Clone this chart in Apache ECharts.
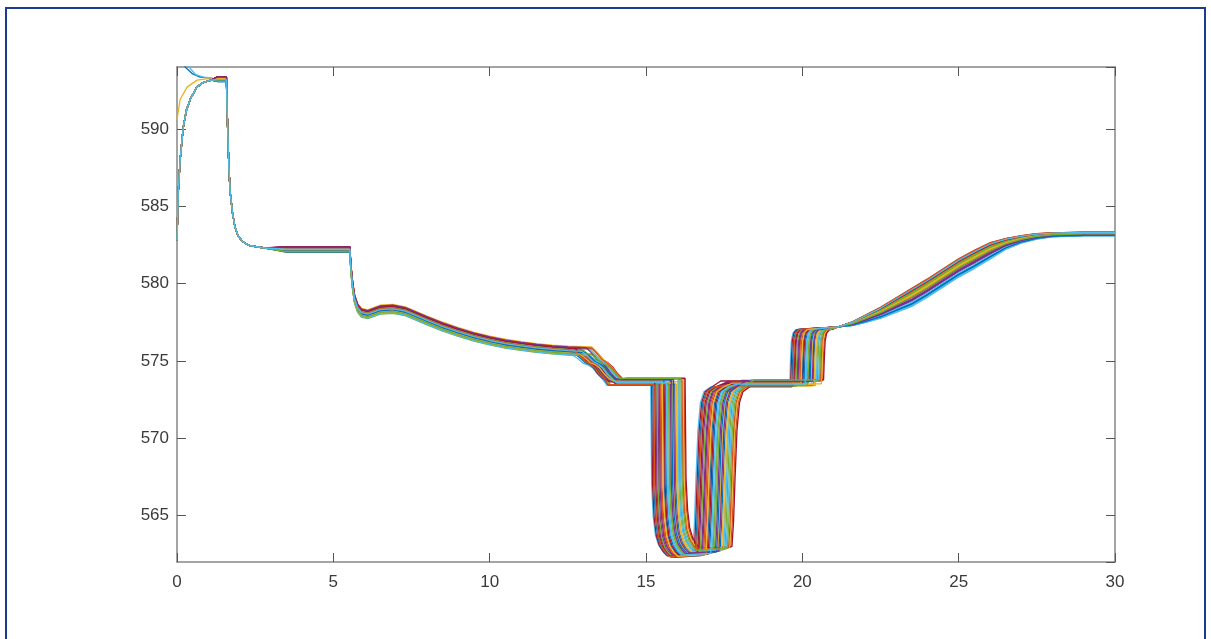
<!DOCTYPE html>
<html><head><meta charset="utf-8">
<script src="https://cdn.jsdelivr.net/npm/echarts@6/dist/echarts.min.js"></script>
<style>
html,body{margin:0;padding:0;background:#fff;}
#frame{position:absolute;left:5px;top:7px;width:1201px;height:700px;border:2px solid #1d3c8e;box-sizing:border-box;}
#chart{position:absolute;left:0;top:0;width:1211px;height:639px;}
</style></head><body>
<div id="frame"></div><div id="chart"></div>
<script>
// ---- axes ----
const X_MIN = 0, X_MAX = 30;
const Y_MIN = 562, Y_MAX = 594;
const COLORS = ['#0072BD','#D95319','#EDB120','#7E2F8E','#77AC30','#4DBEEE','#A2142F'];

// ---- per-run ordering (plot order -> timing rank) ----
const runRank = [12,32,25,7,18,0,33,14,9,21,5,27,16,1,23,10,31,19,6,28,13,2,30,24,8,17,26,4,20,3,11,22,29,15];
const startType = ['C','A','B','A','A','D','A','A','A','A','A','A','A','A','A','A','A','A','A','A','A','A','A','A','A','A','A','A','A','A','A','A','A','A'];

// ---- event times, sorted by rank ----
const dipTimes  = [12.65,12.67,12.69,12.71,12.73,12.75,12.77,12.79,12.81,12.83,12.85,12.87,12.89,12.91,12.93,12.95,12.97,12.99,13.01,13.03,13.05,13.07,13.09,13.11,13.13,13.15,13.17,13.19,13.21,13.23,13.25,13.27,13.29,13.30];
const dropTimes = [15.15,15.18,15.22,15.25,15.28,15.32,15.35,15.38,15.42,15.45,15.48,15.52,15.55,15.58,15.62,15.65,15.68,15.72,15.75,15.78,15.82,15.85,15.88,15.92,15.95,15.98,16.02,16.05,16.08,16.12,16.15,16.18,16.22,16.25];
const riseTimes = [16.50,16.54,16.58,16.61,16.65,16.69,16.73,16.77,16.80,16.84,16.88,16.92,16.95,16.99,17.03,17.07,17.11,17.14,17.18,17.22,17.26,17.30,17.33,17.37,17.41,17.45,17.48,17.52,17.56,17.60,17.64,17.67,17.71,17.75];
const stepTimes = [19.60,19.63,19.67,19.70,19.73,19.76,19.80,19.83,19.86,19.89,19.93,19.96,19.99,20.02,20.06,20.09,20.12,20.16,20.19,20.22,20.25,20.29,20.32,20.35,20.38,20.42,20.45,20.48,20.52,20.55,20.58,20.61,20.65,20.68];
const bottomByRank = [562.45,562.40,562.38,562.35,562.33,562.32,562.30,562.30,562.32,562.33,562.35,562.36,562.38,562.40,562.42,562.44,562.46,562.48,562.50,562.52,562.54,562.56,562.58,562.60,562.62,562.65,562.68,562.70,562.73,562.76,562.79,562.82,562.85,562.88];

// ---- per-run levels (plot order) ----
const earlyLevel = [593.10,593.30,593.22,593.38,593.12,593.18,593.36,593.05,593.28,593.20,593.36,593.10,593.15,593.38,593.08,593.32,593.22,593.34,593.14,593.18,593.37,593.06,593.30,593.20,593.35,593.12,593.16,593.38,593.10,593.28,593.24,593.36,593.08,593.18];
const plat2 = [582.15,582.32,582.05,582.38,582.10,582.20,582.35,582.08,582.28,582.02,582.30,582.12,582.22,582.36,582.06,582.26,582.14,582.33,582.18,582.24,582.37,582.04,582.29,582.16,582.31,582.09,582.21,582.34,582.11,582.27,582.19,582.35,582.07,582.23];
const midOff = [0.08,-0.18,0.27,0.12,-0.08,-0.22,0.18,0.0,0.22,-0.12,0.15,-0.27,0.05,0.21,-0.15,0.09,0.3,-0.03,-0.21,0.14,0.17,-0.09,0.24,-0.18,0.03,0.1,-0.24,0.2,-0.06,0.06,-0.14,0.25,-0.16,0.02];
const platA = [573.55,573.85,573.48,573.80,573.62,573.42,573.88,573.58,573.75,573.50,573.70,573.82,573.60,573.78,573.52,573.72,573.66,573.84,573.45,573.86,573.68,573.44,573.80,573.57,573.74,573.53,573.83,573.64,573.76,573.47,573.69,573.79,573.87,573.61];
const platB = [573.50,573.72,573.40,573.68,573.55,573.35,573.78,573.45,573.62,573.38,573.58,573.75,573.48,573.70,573.42,573.65,573.52,573.74,573.36,573.76,573.60,573.33,573.70,573.46,573.64,573.41,573.73,573.54,573.66,573.39,573.57,573.69,573.77,573.50];
const lateOff = [-0.5,0.5,0.15,0.08,0.22,-0.58,0.58,-0.38,0.45,-0.08,0.0,0.3,-0.45,0.38,-0.15,0.55,0.08,-0.22,0.33,-0.3,0.48,-0.45,0.42,0.18,-0.12,0.27,-0.52,0.45,-0.42,0.6,0.12,-0.18,0.03,0.5];

// ---- common path pieces ----
const earlyT = {
  A:[0,0.04,0.1,0.2,0.3,0.42,0.63,0.84,1.1],
  B:[0,0.1,0.32,0.64,1.0],
  C:[0,0.1,0.26,0.5,0.74,1.0],
  D:[0,0.15,0.38,0.6,0.85,1.1]
};
const earlyY = {
  A:[582.8,585.9,588.0,590.1,591.2,591.9,592.7,593.0,593.15],
  B:[590.6,591.9,592.7,593.15,593.25],
  C:[600.0,596.5,594.0,593.55,593.35,593.3],
  D:[601.0,597.0,594.0,593.5,593.35,593.3]
};
const drop1T = [1.62,1.66,1.70,1.78,1.85,1.95,2.1,2.33,2.8];
const drop1Y = [590.0,587.5,585.9,584.5,583.7,583.1,582.7,582.45,582.3];
const drop2T = [5.56,5.62,5.68,5.78,5.9,6.1,6.5,6.9,7.3,8.0,8.5,9.0,9.5,10.0,10.5,11.0,11.5,12.0,12.5];
const drop2Y = [581.0,579.8,579.0,578.4,578.1,578.0,578.3,578.35,578.2,577.6,577.2,576.85,576.55,576.3,576.1,575.95,575.82,575.72,575.65];
const dipDt = [0,0.15,0.35,0.5,0.65,0.8,0.95];
const dipY  = [575.6,575.35,574.95,574.8,574.55,574.15,573.85];
const dipW  = [1,0.8,0.5,0.3,0.1,0,0];
const dropDt = [0.03,0.08,0.15,0.25,0.38,0.5];
const dropOff = [4.6,2.5,1.3,0.65,0.25,0.0];
const riseDt = [0.05,0.1,0.16,0.24,0.35,0.55];
const riseY  = [564.6,567.5,570.5,572.3,573.0,573.3];
const stepDt = [0.02,0.05,0.1,0.18,0.3];
const stepY  = [575.0,576.3,576.8,577.0,577.05];
const lateT = [21.15,21.6,22.0,22.5,23.0,23.5,24.0,24.5,25.0,25.5,26.0,26.5,27.0,27.5,28.0,29.0,30.0];
const lateY = [577.2,577.4,577.7,578.1,578.6,579.1,579.7,580.35,581.0,581.55,582.1,582.55,582.85,583.05,583.15,583.2,583.2];
const lateW = [0,0.2,0.4,0.6,0.8,1,1,1,1,1,0.9,0.6,0.4,0.3,0.22,0.2,0.2];

function buildRun(i){
  const r = runRank[i];
  const p = [];
  const st = startType[i];
  earlyT[st].forEach((t,k)=>p.push([t, earlyY[st][k]]));
  p.push([1.3, earlyLevel[i]]);
  p.push([1.58, earlyLevel[i]]);
  drop1T.forEach((t,k)=>p.push([t, drop1Y[k]]));
  p.push([3.5, plat2[i]]);
  p.push([5.53, plat2[i]]);
  drop2T.forEach((t,k)=>p.push([t, drop2Y[k] + midOff[i]]));
  const d0 = dipTimes[r];
  dipDt.forEach((dt,k)=>p.push([d0+dt, dipY[k] + midOff[i]*dipW[k]]));
  p.push([d0+1.1, platA[i]]);
  const dr = dropTimes[r], b = bottomByRank[r];
  p.push([dr, platA[i]]);
  dropDt.forEach((dt,k)=>p.push([dr+dt, b + dropOff[k]]));
  const rs = riseTimes[r];
  p.push([rs, b + 0.12]);
  riseDt.forEach((dt,k)=>p.push([rs+dt, riseY[k]]));
  p.push([rs+0.85, platB[i]]);
  const sp = stepTimes[r];
  p.push([sp, platB[i]]);
  stepDt.forEach((dt,k)=>p.push([sp+dt, stepY[k]]));
  lateT.forEach((t,k)=>p.push([t, lateY[k] + lateOff[i]*lateW[k]]));
  return p;
}

const series = runRank.map((_, i) => ({
  type:'line', data: buildRun(i), symbol:'none', showSymbol:false, silent:true, clip:true,
  lineStyle:{width:1.3, color: COLORS[i % 7]}, itemStyle:{color: COLORS[i % 7]}
}));

const axisLineStyle = {show:true, onZero:false, lineStyle:{color:'#868686', width:1.5}};
const tickStyle = {show:true, inside:true, length:9, lineStyle:{color:'#555', width:1}};
const labelFont = {color:'#3a3a3a', fontSize:17, fontFamily:'Liberation Sans, Arial, sans-serif'};

const chart = echarts.init(document.getElementById('chart'), null, {renderer:'canvas'});
chart.setOption({
  animation:false,
  backgroundColor:'transparent',
  grid:{left:177, right:96, top:67, bottom:77, containLabel:false},
  xAxis:[
    {type:'value', min:X_MIN, max:X_MAX, position:'bottom', axisLine:axisLineStyle, axisTick:tickStyle,
     axisLabel:Object.assign({margin:12}, labelFont), splitLine:{show:false}},
    {type:'value', min:X_MIN, max:X_MAX, position:'top', axisLine:axisLineStyle, axisTick:tickStyle,
     axisLabel:{show:false}, splitLine:{show:false}}
  ],
  yAxis:[
    {type:'value', min:Y_MIN, max:Y_MAX, position:'left', axisLine:axisLineStyle, axisTick:tickStyle,
     axisLabel:Object.assign({margin:8, showMinLabel:false, showMaxLabel:false}, labelFont), splitLine:{show:false}},
    {type:'value', min:Y_MIN, max:Y_MAX, position:'right', axisLine:axisLineStyle, axisTick:tickStyle,
     axisLabel:{show:false}, splitLine:{show:false}}
  ],
  series: series
});
</script></body></html>
